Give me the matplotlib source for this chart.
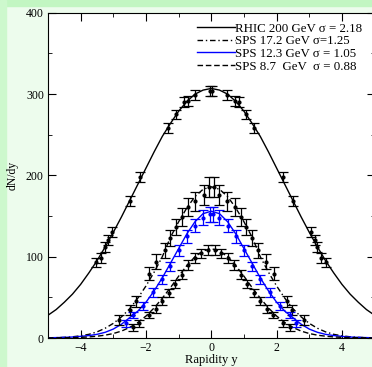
import numpy as np
import matplotlib.pyplot as plt
from matplotlib.patches import Rectangle

plt.rcParams['font.family'] = ['Liberation Serif', 'DejaVu Serif']

# model curves (dN/dy at |y| = 0, 0.25, ... 5)
curve_y = [0.0, 0.25, 0.5, 0.75, 1.0, 1.25, 1.5, 1.75, 2.0, 2.25, 2.5,
           2.75, 3.0, 3.25, 3.5, 3.75, 4.0, 4.25, 4.5, 4.75, 5.0]
rhic_curve = [307, 305, 300, 291, 279, 264, 248, 229, 209, 189, 169,
              149, 130, 112, 95, 80, 66, 54, 44, 35, 28]
sps172_curve = [186, 183, 174, 160, 143, 124, 100, 81, 64, 49, 36,
                26, 18, 12, 7.5, 4.5, 2.7, 1.5, 0.8, 0.4, 0.2]
sps123_curve = [156, 153, 143, 128, 110, 92, 74, 58, 44, 33, 25,
                17, 11, 7, 4.5, 3, 2, 1.2, 0.8, 0.5, 0.3]
sps87_curve = [110, 107, 100, 89, 76, 62, 49, 37, 27, 19, 13,
               8.5, 5.5, 3.5, 2.2, 1.3, 0.8, 0.5, 0.3, 0.2, 0.1]

# data points (one side; mirrored around y = 0)
rhic_y = [3.52, 3.37, 3.24, 3.17, 3.04, 2.50, 2.19, 1.32, 1.07, 0.85, 0.72, 0.49, 0.03]
rhic_n = [93, 98, 112, 121, 130, 169, 198, 258, 275, 290, 292, 299, 304]
rhic_err = [6, 6, 6, 6, 6, 6, 6, 6, 6, 6, 6, 6, 6]

sps172_y = [2.84, 2.48, 2.32, 1.92, 1.68, 1.43, 1.25, 1.07, 0.90, 0.72, 0.49, 0.23, 0.08]
sps172_n = [22, 34, 45, 79, 94, 108, 123, 137, 149, 161, 168, 176, 186]
sps172_err = [6, 6, 7, 8, 9, 9, 10, 10, 11, 11, 12, 12, 12]

sps123_y = [2.6, 2.4, 2.1, 1.8, 1.5, 1.25, 1.0, 0.75, 0.5, 0.25, 0.05]
sps123_n = [18, 28, 39, 56, 72, 88, 108, 125, 138, 148, 152]
sps123_err = [4, 4, 5, 5, 6, 6, 7, 8, 8, 9, 9]

sps87_y = [2.4, 2.2, 1.9, 1.7, 1.5, 1.3, 1.1, 0.9, 0.7, 0.5, 0.3, 0.1]
sps87_n = [13, 18, 28, 36, 46, 55, 66, 78, 90, 98, 104, 108]
sps87_err = [4, 4, 4, 5, 5, 5, 5, 6, 6, 6, 6, 6]

labels = ['RHIC 200 GeV σ = 2.18', 'SPS 17.2 GeV σ=1.25',
          'SPS 12.3 GeV σ = 1.05', 'SPS 8.7  GeV  σ = 0.88']


def both_sides(ys, vals):
    ys = np.asarray(ys, float)
    vals = np.asarray(vals, float)
    return np.concatenate([-ys[::-1], ys[1:]]), np.concatenate([vals[::-1], vals[1:]])


fig = plt.figure(figsize=(3.72, 3.67), dpi=100, facecolor='#edfced')
# green border strips on top and left
fig.patches.append(Rectangle((0, 0.984), 1, 0.02, transform=fig.transFigure,
                             color='#c2f6c2', zorder=-5))
fig.patches.append(Rectangle((0, 0), 0.016, 1, transform=fig.transFigure,
                             color='#cdf8cd', zorder=-5))
ax = fig.add_axes([0.129, 0.079, 0.878, 0.886])

curves = [(rhic_curve, '-', 'black'), (sps172_curve, (0, (4, 2, 1, 2)), 'black'),
          (sps123_curve, '-', 'blue'), (sps87_curve, (0, (4, 2)), 'black')]
for (vals, ls, col), lab in zip(curves, labels):
    x, v = both_sides(curve_y, vals)
    ax.plot(x, v, ls=ls, color=col, lw=1.0, label=lab)

points = [(rhic_y, rhic_n, rhic_err, 'black'), (sps172_y, sps172_n, sps172_err, 'black'),
          (sps123_y, sps123_n, sps123_err, 'blue'), (sps87_y, sps87_n, sps87_err, 'black')]
for ys, ns, es, col in points:
    ys = np.asarray(ys)
    x = np.concatenate([-ys, ys])
    v = np.concatenate([ns, ns])
    e = np.concatenate([es, es])
    ax.errorbar(x, v, yerr=e, fmt='o', ms=2, color=col, ecolor=col,
                elinewidth=0.9, capsize=3.8, capthick=0.9)

ax.set_xlim(-5, 5)
ax.set_ylim(0, 400)
ax.set_xticks([-4, -2, 0, 2, 4])
ax.set_xticks([-5, -3, -1, 1, 3, 5], minor=True)
ax.set_yticks([0, 100, 200, 300, 400])
ax.set_yticks([50, 150, 250, 350], minor=True)
ax.tick_params(which='both', direction='in', top=True, right=True, labelsize=8.5, pad=3)
ax.tick_params(which='major', length=6)
ax.tick_params(which='minor', length=3)
ax.set_xlabel('Rapidity y', fontsize=9, labelpad=0)
ax.set_ylabel('dN/dy', fontsize=8.5, labelpad=5)
ax.legend(loc='upper right', bbox_to_anchor=(0.992, 1.0), frameon=False, fontsize=9.3,
          handlelength=2.9, handletextpad=0.05, labelspacing=0.05, borderpad=0.25)

fig.savefig('out.png', dpi=100, facecolor=fig.get_facecolor())
